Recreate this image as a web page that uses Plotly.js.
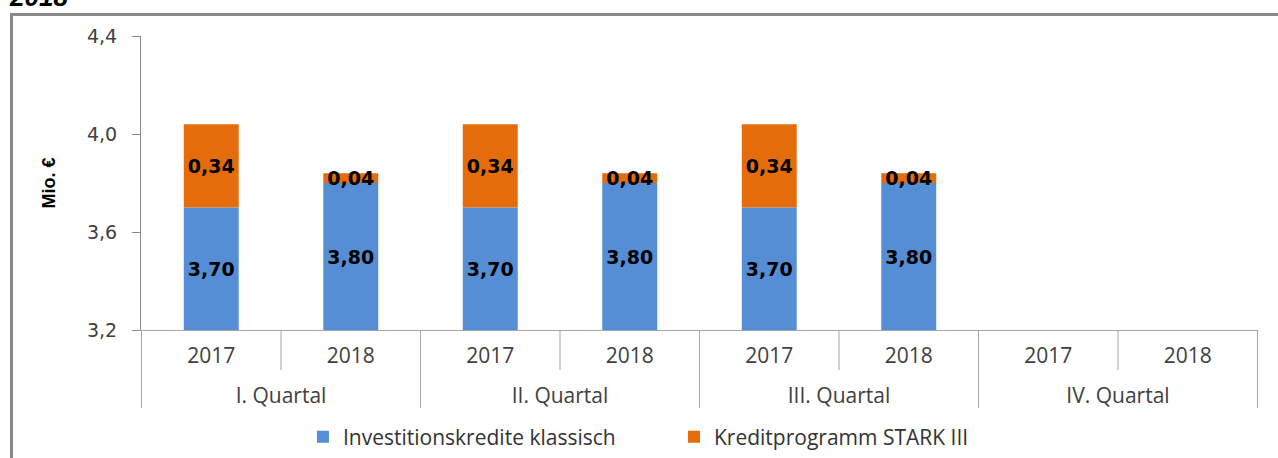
<!DOCTYPE html>
<html>
<head>
<meta charset="utf-8">
<script src="https://cdn.plot.ly/plotly-3.0.1.min.js"></script>
<style>
  html, body { margin: 0; padding: 0; background: #fff; }
  #wrap { position: relative; width: 1278px; height: 458px; overflow: hidden; }
  #chart { width: 1278px; height: 458px; }
  #frame { position: absolute; left: 10px; top: 13px; width: 1400px; height: 600px;
           border: 3px solid #8a8a8a; pointer-events: none; box-sizing: border-box; }
</style>
</head>
<body>
<div id="wrap">
  <div id="chart"></div>
  <div id="frame"></div>
</div>
<script>
// ---- data ----
const quarters = ['I. Quartal', 'II. Quartal', 'III. Quartal', 'IV. Quartal'];
const years = ['2017', '2018'];
const investKlassisch = [3.70, 3.80, 3.70, 3.80, 3.70, 3.80, null, null];
const starkIII = [0.34, 0.04, 0.34, 0.04, 0.34, 0.04, null, null];
const seriesNames = ['Investitionskredite klassisch', 'Kreditprogramm STARK III'];
const yTicks = [3.2, 3.6, 4.0, 4.4];
const titleText = '2018';
const yTitle = 'Mio. €';

// ---- build ----
const AXIS_MIN = 3.2, AXIS_MAX = 4.4;
const PLOT_H = 294;
const xLevel0 = [], xLevel1 = [];
quarters.forEach(q => years.forEach(y => { xLevel0.push(q); xLevel1.push(y); }));

const blueBase = investKlassisch.map(v => v == null ? null : AXIS_MIN);
const blueLen = investKlassisch.map(v => v == null ? null : v - AXIS_MIN);

const labelFont = { family: 'DejaVu Sans', size: 19, color: '#000', weight: 'bold' };

const traceBlue = {
  type: 'bar', name: seriesNames[0],
  x: [xLevel0, xLevel1], y: blueLen, base: blueBase,
  customdata: investKlassisch,
  marker: { color: '#558ED5', line: { width: 0 } },
  texttemplate: '%{customdata:.2f}', textposition: 'inside',
  insidetextanchor: 'middle', constraintext: 'none',
  textfont: labelFont, hoverinfo: 'skip'
};
const traceOrange = {
  type: 'bar', name: seriesNames[1],
  x: [xLevel0, xLevel1], y: starkIII, base: investKlassisch,
  marker: { color: '#E46C0A', line: { width: 0 } },
  texttemplate: '%{y:.2f}', textposition: 'inside',
  insidetextanchor: 'middle', constraintext: 'none',
  textfont: labelFont, hoverinfo: 'skip'
};

// boundary lines below the axis: short ones between years, long ones between quarters
const shapes = [];
const nCat = xLevel0.length;
for (let b = 0; b <= nCat; b++) {
  const pos = b - 0.5;
  const isGroup = (b % years.length === 0);
  const len = isGroup ? 78 : 40;
  shapes.push({ type: 'line', xref: 'x', yref: 'paper', x0: pos, x1: pos,
    y0: 0, y1: -len / PLOT_H, line: { color: '#a6a6a6', width: 1 } });
}

const layout = {
  width: 1278, height: 458,
  margin: { l: 141, r: 20, t: 36, b: 128, autoexpand: false },
  paper_bgcolor: '#fff', plot_bgcolor: '#fff',
  separators: ',.',
  barmode: 'overlay', bargap: 0.606,
  showlegend: true,
  title: { text: titleText, xref: 'container', yref: 'container',
    x: 10 / 1278, xanchor: 'left', y: 1 - 6 / 458, yanchor: 'bottom',
    font: { family: 'Liberation Sans', size: 26, weight: 'bold', style: 'italic', color: '#000' } },
  xaxis: {
    type: 'multicategory', automargin: false,
    showline: true, linecolor: '#a6a6a6', linewidth: 1,
    ticks: '', ticklabelstandoff: 7,
    showgrid: false, zeroline: false,
    showdividers: false,
    tickfont: { family: 'Open Sans', size: 21, color: '#404040' },
    fixedrange: true
  },
  yaxis: {
    range: [AXIS_MIN, AXIS_MAX], tickvals: yTicks, tickformat: '.1f', automargin: false,
    showline: true, linecolor: '#8a8a8a', linewidth: 1,
    ticks: 'outside', ticklen: 8, tickcolor: '#8a8a8a',
    ticklabelstandoff: 11,
    showgrid: false, zeroline: false,
    tickfont: { family: 'DejaVu Sans', size: 19, color: '#404040' },
    title: { text: yTitle, standoff: 26,
      font: { family: 'Liberation Sans', size: 18, weight: 'bold', color: '#000' } },
    fixedrange: true
  },
  legend: {
    orientation: 'h', x: 0.145, xanchor: 'left',
    yref: 'container', y: 1 - 437 / 458, yanchor: 'middle',
    entrywidth: 326, traceorder: 'normal',
    font: { family: 'Open Sans', size: 21, color: '#333' },
    bgcolor: 'rgba(0,0,0,0)', borderwidth: 0
  },
  shapes: shapes
};

Plotly.newPlot('chart', [traceBlue, traceOrange], layout, { displayModeBar: false, staticPlot: true })
  .then(gd => {
    // push the quarter (second level) labels further down, as in the reference
    gd.querySelectorAll('g.xtick2').forEach(g => g.setAttribute('transform', 'translate(0,17)'));
  });
</script>
</body>
</html>
